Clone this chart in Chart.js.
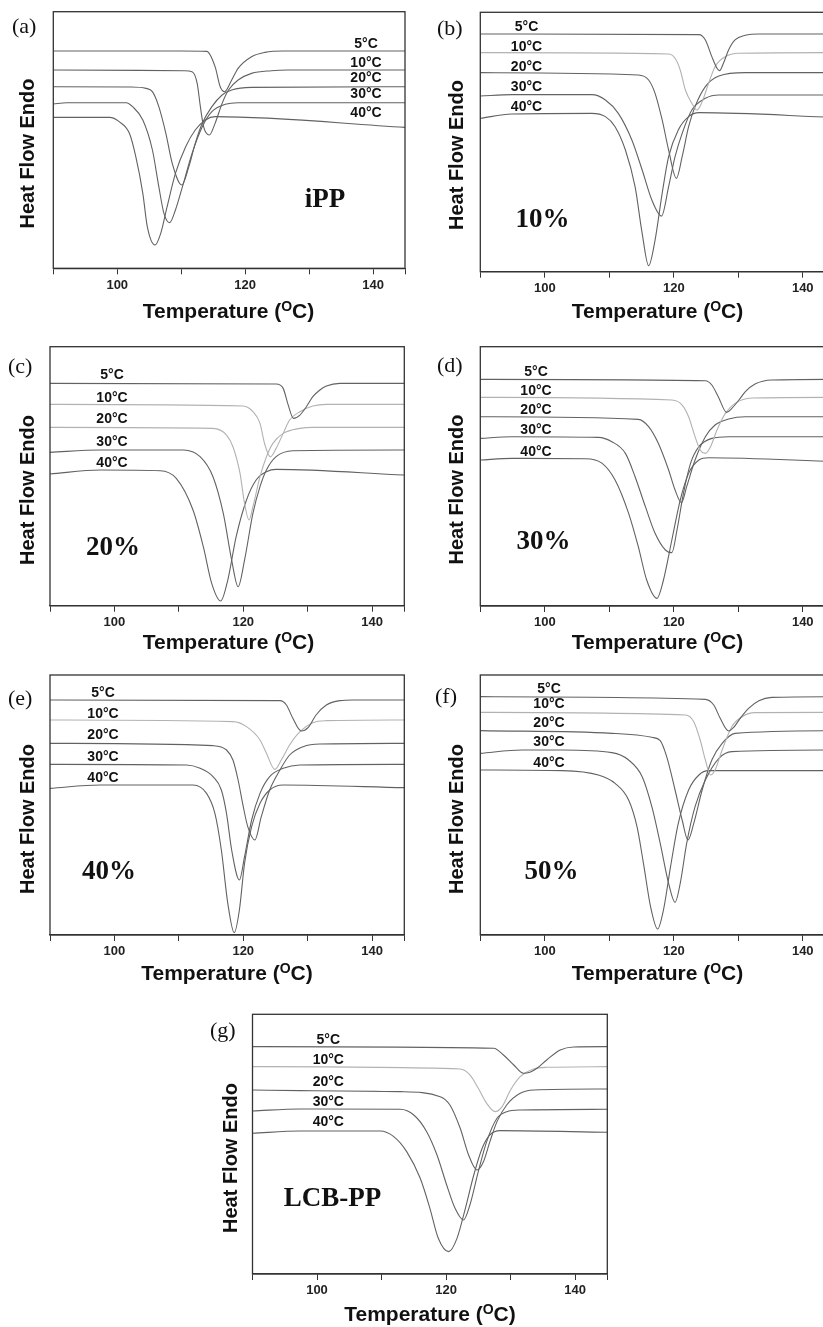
<!DOCTYPE html>
<html>
<head>
<meta charset="utf-8">
<script src="https://cdn.jsdelivr.net/npm/chart.js@4.4.1/dist/chart.umd.min.js"></script>
<style>
  html, body { margin: 0; padding: 0; background: #fff; overflow: hidden; width: 823px; height: 1327px; }
  canvas { position: absolute; left: 0; top: 0; }
</style>
</head>
<body>
<div id="wrap"></div>
<script>
// cooling curves, [temperature, heat flow (a.u.)]
const iPP_5  = [[90,652],[110,652],[114,651],[115.3,605],[116.1,545],[116.8,530],[117.9,565],[118.9,600],[121,635],[123.1,648],[126,652],[145,652]];
const iPP_10 = [[90,595],[110.5,593],[111.7,590],[112.5,555],[113,485],[113.5,425],[114.4,400],[115.3,435],[116.4,495],[117.4,535],[118.9,565],[121,585],[124.1,593],[126.7,595],[145,595]];
const iPP_20 = [[90,545],[102,544],[104.5,540],[105.5,530],[106.5,485],[107.6,405],[108.6,315],[110.1,250],[111.2,305],[112.2,375],[113.3,435],[114.8,485],[116.4,520],[117.9,535],[121,543],[145,545]];
const iPP_30 = [[90,493],[92.1,497],[101.4,497],[102.4,485],[104,445],[105.5,355],[106.5,245],[107.3,165],[108.2,137],[109.1,175],[110.2,245],[111.7,345],[113.3,425],[114.8,470],[116.9,492],[118.9,497],[145,497]];
const iPP_40 = [[90,453],[98.8,453],[100.3,440],[101.9,405],[102.9,335],[104,225],[104.7,125],[105.9,70],[106.8,105],[107.8,185],[109.1,285],[110.7,365],[112.2,415],[113.8,445],[115.3,455],[145,423]];

const p10_5  = [[90,713],[123.9,711],[124.9,695],[125.9,645],[126.7,610],[127.1,603],[127.7,625],[128.5,665],[129.5,695],[131.1,709],[133.2,713],[145,713]];
const p10_10 = [[90,657],[119.2,653],[120.2,640],[121,605],[121.8,545],[122.8,505],[123.6,485],[124.4,510],[125.4,565],[126.4,615],[128,645],[130.1,655],[145,657]];
const p10_20 = [[90,597],[114.5,590],[116.1,575],[117.1,535],[118.2,455],[119.2,365],[120.4,280],[121.3,345],[122.3,435],[123.3,495],[124.9,555],[127,587],[131.1,597],[145,597]];
const p10_30 = [[90,527],[94.9,531],[107.3,531],[109.4,515],[111.4,475],[113.5,395],[115.1,305],[116.6,215],[118.1,167],[119.2,255],[120.2,345],[121.3,415],[122.8,485],[124.9,520],[127,530],[145,530]];
const p10_40 = [[90,460],[94.9,473],[107.3,475],[109.4,465],[110.9,435],[112.5,365],[114,255],[115.1,115],[116.1,18],[117.1,95],[118.2,235],[119.2,345],[120.7,425],[122.3,465],[123.9,477],[145,463]];

const p20_5  = [[90,667],[125.1,665],[126.2,652],[126.9,607],[127.8,562],[128.8,572],[129.8,597],[130.8,627],[131.9,647],[132.9,659],[135,667],[145,667]];
const p20_10 = [[90,604],[120,599],[121.5,582],[122.6,547],[123.3,487],[124.2,447],[125.1,472],[126.2,517],[127.2,557],[128.8,582],[130.8,599],[132.9,604],[145,604]];
const p20_20 = [[90,535],[115.3,532],[117.4,512],[118.4,477],[119.5,397],[120.2,307],[120.9,257],[121.5,297],[122.6,387],[123.6,447],[124.6,487],[126.2,517],[128.8,532],[130.8,535],[145,535]];
const p20_30 = [[90,460],[97.8,467],[110.7,467],[113.3,447],[115.3,387],[116.9,277],[118.2,137],[119.2,57],[120.2,137],[121.5,277],[122.6,357],[123.6,407],[125.1,447],[127.7,465],[145,467]];
const p20_40 = [[90,395],[97.8,407],[107.1,405],[109.6,382],[112.2,287],[113.8,177],[115.1,67],[116.5,14],[117.6,77],[118.9,207],[120.5,317],[122,377],[123.6,402],[125.1,409],[145,392]];

const p30_5  = [[90,680],[124.9,676],[125.9,663],[126.9,628],[128.2,581],[129,593],[130.1,618],[131.1,643],[132.6,666],[135.2,678],[145,680]];
const p30_10 = [[90,626],[119.7,618],[121.3,603],[122.3,568],[123.3,508],[124.1,468],[124.9,458],[125.7,478],[126.7,528],[128,578],[129.5,608],[132.1,624],[145,626]];
const p30_20 = [[90,568],[114.5,560],[116.1,538],[117.6,488],[119.2,408],[120.2,348],[121.2,310],[122,358],[123.3,438],[124.9,508],[126.4,543],[128.5,561],[131.1,568],[145,568]];
const p30_30 = [[90,503],[94.9,508],[108.3,506],[110.4,493],[112.5,458],[114,388],[115.6,298],[117.1,218],[118.7,168],[119.7,160],[120.5,228],[121.5,338],[122.6,428],[123.9,478],[125.9,503],[128.5,508],[145,508]];
const p30_40 = [[90,438],[94.9,443],[106.3,442],[108.9,428],[110.9,378],[113,278],[114.5,178],[115.8,78],[117.4,23],[118.4,78],[119.7,198],[121,318],[122.3,398],[123.9,438],[125.4,445],[145,433]];

const p40_5  = [[90,705],[125.7,703],[126.7,690],[127.7,650],[129,612],[130.1,623],[131.3,660],[132.9,690],[135,703],[137,705],[145,705]];
const p40_10 = [[90,645],[118.4,640],[120.5,625],[122.6,585],[123.6,545],[124.9,497],[125.9,525],[127.2,570],[128.8,610],[130.8,637],[132.9,643],[145,645]];
const p40_20 = [[90,575],[115.3,568],[117.4,555],[118.4,525],[119.2,465],[120,385],[120.7,325],[121.8,285],[122.8,355],[124.1,435],[125.7,495],[127.2,540],[129.3,565],[131.9,573],[145,575]];
const p40_30 = [[90,512],[111.2,510],[113.3,500],[115.3,475],[116.6,435],[117.4,365],[118.2,255],[119.4,165],[120.2,235],[121.3,345],[122.6,425],[124.1,475],[126.2,500],[128.8,510],[145,512]];
const p40_40 = [[90,440],[97.8,450],[112.2,450],[114.3,425],[115.6,365],[116.6,255],[117.6,95],[118.6,7],[119.4,75],[120.2,215],[121.3,325],[122.6,395],[124.1,435],[126.2,450],[145,442]];

const p50_5  = [[90,715],[124.9,707],[126.2,690],[127.2,650],[128.5,612],[129.3,623],[130.3,650],[131.6,680],[133.2,703],[135.2,713],[145,715]];
const p50_10 = [[90,668],[121.8,660],[123.1,640],[124.1,585],[124.9,525],[125.7,480],[126.4,495],[127.5,555],[129,625],[130.6,655],[132.6,667],[145,668]];
const p50_20 = [[90,613],[110.4,605],[116.6,593],[117.9,583],[118.9,535],[120.2,435],[121.3,345],[122.2,285],[123.1,335],[124.4,435],[125.9,525],[127.5,575],[129.5,605],[145,613]];
const p50_30 = [[90,545],[96.5,555],[102.7,555],[110.4,547],[113,525],[115.1,475],[116.6,385],[117.9,275],[119.2,155],[120.2,98],[121,155],[122,275],[123.3,385],[124.9,465],[127,530],[129,550],[145,555]];
const p50_40 = [[90,495],[102.7,493],[108.3,480],[110.9,455],[113,405],[114.3,325],[115.3,215],[116.4,85],[117.5,18],[118.4,75],[119.5,205],[120.7,335],[122.3,435],[123.9,480],[125.4,493],[145,493]];

const lcb_5  = [[90,682],[127.4,677],[128.9,657],[130.5,627],[132,602],[133,605],[134.1,617],[135.6,642],[137.7,672],[139.8,681],[145,682]];
const lcb_10 = [[90,622],[122.2,615],[123.7,597],[125,557],[126.3,512],[127.6,487],[128.7,502],[130,552],[131.5,592],[133.6,615],[135.6,620],[145,622]];
const lcb_20 = [[90,552],[97.4,550],[112.9,547],[119.1,532],[120.6,507],[122.2,437],[123.5,357],[124.8,312],[125.8,337],[126.8,397],[127.9,457],[129.4,507],[131.5,542],[133.6,552],[145,555]];
const lcb_30 = [[90,489],[97.4,495],[112.9,494],[115,477],[117,427],[118.6,357],[120.1,267],[121.4,197],[122.7,162],[123.7,207],[125,307],[126.3,397],[127.9,467],[129.4,487],[131.5,492],[145,494]];
const lcb_40 = [[90,422],[97.4,429],[109.8,429],[111.9,412],[113.9,367],[116,287],[117.5,197],[118.8,107],[120.4,67],[121.7,107],[123,197],[124.3,297],[125.6,377],[126.8,417],[128.4,430],[145,425]];

const rates = ['5°C', '10°C', '20°C', '30°C', '40°C'];
const xTickValues = [90, 100, 110, 120, 130, 140, 145];
const xTickLabels = [100, 120, 140];

const DARK = '#626262';
const LIGHT = '#b2b2b2';
const SANS = '"Liberation Sans", Arial, sans-serif';
const SERIF = '"Liberation Serif", "Times New Roman", serif';

const panels = [
    { letter: '(a)', name: 'iPP', curves: [iPP_5, iPP_10, iPP_20, iPP_30, iPP_40], light: [], yMax: 770,
      box: [53.3, 11.7, 405, 268.3], rateX: 366, rateY: [44.3, 63.3, 78.3, 94.3, 113.3],
      letterAt: [12, 27], nameAt: [325, 200], yTitleAt: [28.3, 153.5], xTitleAt: [228.5, 312] },
    { letter: '(b)', name: '10%', curves: [p10_5, p10_10, p10_20, p10_30, p10_40], light: [1], yMax: 778,
      box: [480.3, 12.3, 835, 271.7], rateX: 526.5, rateY: [26.7, 46.7, 66.7, 87.3, 106.7],
      letterAt: [437, 29], nameAt: [542.5, 220], yTitleAt: [457, 155], xTitleAt: [657.5, 312] },
    { letter: '(c)', name: '20%', curves: [p20_5, p20_10, p20_20, p20_30, p20_40], light: [1, 2], yMax: 777,
      box: [50, 346.7, 404.3, 605.7], rateX: 112, rateY: [375, 397.7, 419, 441.7, 462.7],
      letterAt: [8, 367], nameAt: [113, 548], yTitleAt: [28.3, 490], xTitleAt: [228.5, 643] },
    { letter: '(d)', name: '30%', curves: [p30_5, p30_10, p30_20, p30_30, p30_40], light: [1], yMax: 778,
      box: [480.3, 346.7, 835, 606], rateX: 536, rateY: [371.7, 391, 410, 430, 452.3],
      letterAt: [437, 366], nameAt: [543.5, 541.7], yTitleAt: [457, 489.5], xTitleAt: [657.5, 643] },
    { letter: '(e)', name: '40%', curves: [p40_5, p40_10, p40_20, p40_30, p40_40], light: [1], yMax: 780,
      box: [50, 675, 404.3, 935], rateX: 103, rateY: [693.3, 714, 735, 756.7, 778.3],
      letterAt: [8, 699], nameAt: [109, 871.7], yTitleAt: [28.3, 819], xTitleAt: [227, 974] },
    { letter: '(f)', name: '50%', curves: [p50_5, p50_10, p50_20, p50_30, p50_40], light: [1], yMax: 780,
      box: [480.3, 675, 835, 935], rateX: 549, rateY: [689.3, 704.3, 722.7, 741.7, 763.3],
      letterAt: [435, 697], nameAt: [551.5, 871.7], yTitleAt: [457, 819], xTitleAt: [657.5, 974] },
    { letter: '(g)', name: 'LCB-PP', curves: [lcb_5, lcb_10, lcb_20, lcb_30, lcb_40], light: [1], yMax: 779,
      box: [252.5, 1014.3, 607.3, 1274], rateX: 328.3, rateY: [1040, 1060, 1081.7, 1101.7, 1121.7],
      letterAt: [210, 1031], nameAt: [332.5, 1199], yTitleAt: [231.7, 1158], xTitleAt: [430, 1315] }
];

const CW = 860, CH = 1327, XH = 24;

function drawXTitle(ctx, cx, cy) {
    const a = 'Temperature (', o = 'O', c = 'C)';
    ctx.font = 'bold 21px ' + SANS;
    const wa = ctx.measureText(a).width, wc = ctx.measureText(c).width;
    ctx.font = 'bold 14px ' + SANS;
    const wo = ctx.measureText(o).width;
    let x = cx - (wa + wo + wc) / 2;
    ctx.textAlign = 'left';
    ctx.textBaseline = 'middle';
    ctx.font = 'bold 21px ' + SANS;
    ctx.fillText(a, x, cy);
    x += wa;
    ctx.font = 'bold 14px ' + SANS;
    ctx.fillText(o, x, cy - 5);
    x += wo;
    ctx.font = 'bold 21px ' + SANS;
    ctx.fillText(c, x, cy);
}

const decor = {
    id: 'decor',
    afterDraw(chart, args, p) {
        const ctx = chart.ctx, ca = chart.chartArea;
        ctx.save();
        ctx.strokeStyle = '#333';
        ctx.lineWidth = 1.3;
        ctx.strokeRect(ca.left, ca.top, ca.right - ca.left, ca.bottom - ca.top);
        ctx.fillStyle = '#111';

        ctx.font = '22px ' + SERIF;
        ctx.textAlign = 'left';
        ctx.textBaseline = 'middle';
        ctx.fillText(p.letter, p.letterAt[0], p.letterAt[1]);

        ctx.font = 'bold 27px ' + SERIF;
        ctx.textAlign = 'center';
        ctx.fillText(p.name, p.nameAt[0], p.nameAt[1]);

        ctx.font = 'bold 14px ' + SANS;
        rates.forEach((r, i) => ctx.fillText(r, p.rateX, p.rateY[i]));

        ctx.save();
        ctx.translate(p.yTitleAt[0], p.yTitleAt[1]);
        ctx.rotate(-Math.PI / 2);
        ctx.font = 'bold 20px ' + SANS;
        ctx.fillText('Heat Flow Endo', 0, 0);
        ctx.restore();

        drawXTitle(ctx, p.xTitleAt[0], p.xTitleAt[1]);
        ctx.restore();
    }
};

const wrap = document.getElementById('wrap');
panels.forEach(p => {
    const cv = document.createElement('canvas');
    cv.width = CW;
    cv.height = CH;
    cv.style.width = CW + 'px';
    cv.style.height = CH + 'px';
    wrap.appendChild(cv);

    new Chart(cv, {
        type: 'line',
        data: {
            datasets: p.curves.map((pts, i) => ({
                label: rates[i],
                data: pts.map(d => ({ x: d[0], y: d[1] })),
                borderColor: p.light.includes(i) ? LIGHT : DARK,
                borderWidth: 1.1,
                pointRadius: 0,
                cubicInterpolationMode: 'monotone',
                fill: false
            }))
        },
        options: {
            responsive: false,
            devicePixelRatio: 1,
            animation: false,
            layout: {
                padding: { left: p.box[0], top: p.box[1], right: CW - p.box[2], bottom: CH - p.box[3] - XH }
            },
            plugins: { legend: { display: false }, tooltip: { enabled: false }, decor: p },
            scales: {
                x: {
                    type: 'linear',
                    min: 90,
                    max: 145,
                    afterBuildTicks: s => { s.ticks = xTickValues.map(v => ({ value: v })); },
                    afterFit: s => { s.height = XH; },
                    ticks: {
                        autoSkip: false,
                        maxRotation: 0,
                        padding: 3,
                        color: '#222',
                        font: { family: SANS, size: 13, weight: 'bold' },
                        callback: v => xTickLabels.includes(v) ? String(v) : ''
                    },
                    grid: { display: true, drawOnChartArea: false, drawTicks: true, tickLength: 6, color: '#333' },
                    border: { display: true, color: '#333', width: 1.3 }
                },
                y: { display: false, min: 0, max: p.yMax }
            }
        },
        plugins: [decor]
    });
});
</script>
</body>
</html>
